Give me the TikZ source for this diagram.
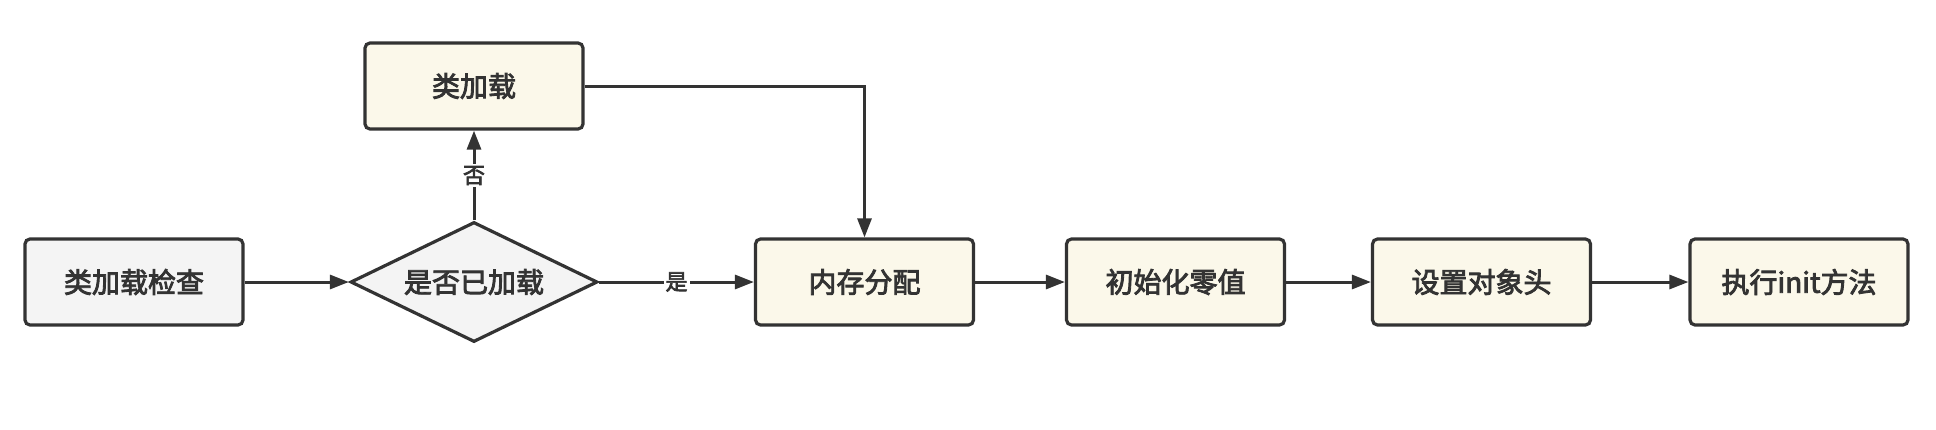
\documentclass[tikz,border=0pt]{standalone}
\usepackage{fontspec}
\setmainfont{Noto Sans CJK SC}[FakeBold=3]
\usetikzlibrary{shapes.geometric}
\usetikzlibrary{arrows.meta}
\usetikzlibrary{positioning}

\definecolor{inkgray}{HTML}{333333}
\definecolor{grayfill}{HTML}{F4F4F4}
\definecolor{creamfill}{HTML}{FBF8EA}

\tikzset{
    stepbox/.style={draw=inkgray, line width=1.6pt, rounded corners=2.5pt,
        minimum width=109pt, minimum height=43pt, fill=creamfill,
        text=inkgray, font=\fontsize{14pt}{16pt}\selectfont},
    decision/.style={draw=inkgray, line width=1.6pt, diamond, aspect=2,
        inner sep=0pt, minimum width=123.5pt, minimum height=60pt,
        fill=grayfill, text=inkgray, font=\fontsize{14pt}{16pt}\selectfont},
    flow/.style={draw=inkgray, line width=1.5pt, -{Triangle[length=9.5pt,width=7pt]}},
    choice/.style={fill=white, text=inkgray, inner sep=1pt,
        font=\fontsize{11pt}{13pt}\selectfont}
}

\begin{document}
\begin{tikzpicture}[x=0.5pt, y=-0.5pt]
            \useasboundingbox (0,0) rectangle (1936,429);

            % Check and decision
            \node[stepbox, fill=grayfill] (check) at (134,282) {类加载检查};
            \node[decision] (loaded) at (474,282) {是否已加载};
            \node[stepbox] (load) at (474,86) {类加载};

            % Creation steps
            \node[stepbox] (alloc) at (864.5,282) {内存分配};
            \node[stepbox] (zero) at (1175.5,282) {初始化零值};
            \node[stepbox] (header) at (1481.5,282) {设置对象头};
            \node[stepbox] (init) at (1799,282) {执行init方法};

            % Connectors
            \draw[flow] (check) -- (loaded);
            \draw[flow] (loaded.north) -- node[choice] {否} (load.south);
            \draw[flow] (loaded.east) -- node[choice] {是} (alloc.west);
            \draw[flow] (load.east) -| (alloc.north);
            \draw[flow] (alloc) -- (zero);
            \draw[flow] (zero) -- (header);
            \draw[flow] (header) -- (init);

        \end{tikzpicture}
\end{document}
